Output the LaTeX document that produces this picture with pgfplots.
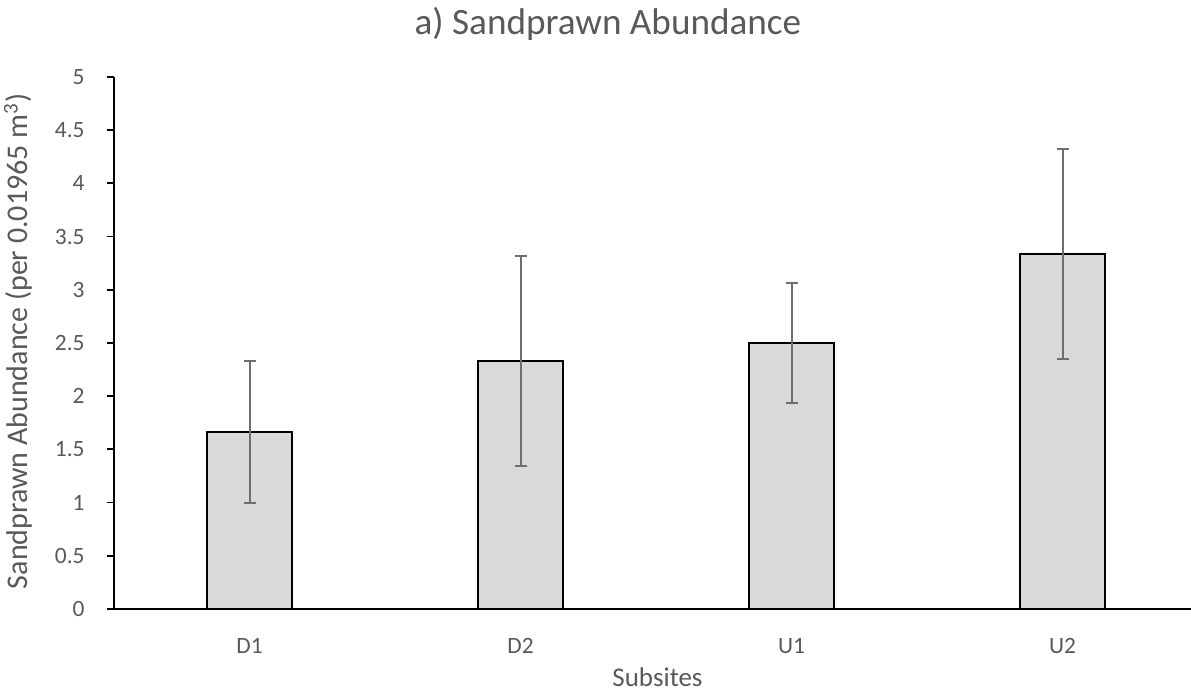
\documentclass[border=0pt]{standalone}
\usepackage{pgfplots}
\pgfplotsset{compat=1.18}
\usepackage{fontspec}
\setmainfont{Carlito}
\definecolor{txt}{HTML}{595959}
\definecolor{barfill}{HTML}{D9D9D9}
\definecolor{errc}{HTML}{6E6E6E}
\begin{document}
\begin{tikzpicture}
\begin{axis}[
  at={(0,0)}, anchor=south west,
  scale only axis, width=538.5pt, height=266pt,
  xmin=-0.5, xmax=3.474, ymin=0, ymax=5,
  axis x line*=bottom, axis y line*=left,
  axis line style={black, line width=1pt},
  xtick={0,1,2,3}, xticklabels={D1,D2,U1,U2},
  major x tick style={draw=none},
  ytick={0,0.5,...,5},
  yticklabels={0,0.5,1,1.5,2,2.5,3,3.5,4,4.5,5},
  tick align=outside, major tick length=3.5pt,
  major y tick style={black, line width=0.9pt},
  tick label style={font=\fontsize{11.7}{13}\selectfont, text=txt, inner sep=0pt},
  yticklabel style={anchor=east, xshift=-11pt},
  xticklabel style={anchor=base, yshift=-19pt},
  ybar, bar width=42.5pt,
  clip=false,
]
\addplot[fill=barfill, draw=black, line width=1pt,
  error bars/.cd, y dir=both, y explicit,
  error bar style={errc, line width=1pt},
  error mark options={errc, line width=1pt, mark size=3pt, rotate=90}]
  coordinates {
    (0,1.6667) +- (0,0.6667)
    (1,2.3333) +- (0,0.988)
    (2,2.5) +- (0,0.56)
    (3,3.3333) +- (0,0.988)
  };
\end{axis}
\node[anchor=base, text=txt, font=\fontsize{18.6}{22}\selectfont, inner sep=0pt] at (247pt,287pt) {a) Sandprawn Abundance};
\node[anchor=base west, text=txt, font=\fontsize{13.5}{16}\selectfont, inner sep=0pt] at (249pt,-39pt) {Subsites};
\node[anchor=base east, rotate=90, text=txt, font=\fontsize{15}{17}\selectfont, inner sep=0pt] at (-43pt,258pt) {Sandprawn Abundance (per 0.01965 m\textsuperscript{3})};
\pgfresetboundingbox
\path (-57pt,-42.5pt) rectangle (538.5pt,304.5pt);
\end{tikzpicture}
\end{document}
